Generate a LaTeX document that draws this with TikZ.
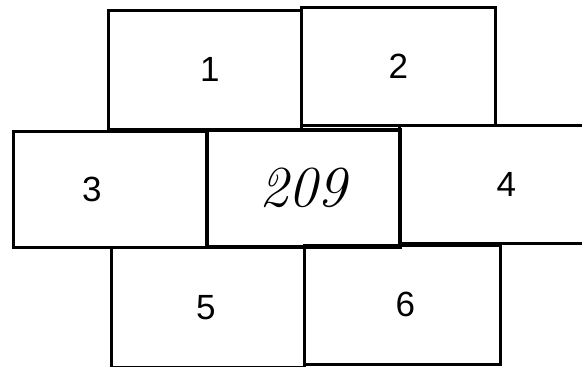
\documentclass[tikz,border=0pt]{standalone}
\usepackage{fontspec}
\setmainfont{Liberation Sans}
\newfontfamily\handfont{Latin Modern Roman}
\begin{document}
\begin{tikzpicture}[x=1pt,y=-1pt,
  cell/.style={draw=black, line width=2.8pt, anchor=north west, inner sep=0pt,
    font=\fontsize{35}{35}\selectfont},
  mid/.style={cell, line width=3.6pt}]
\useasboundingbox (0,0) rectangle (582,367);
\clip (0,0) rectangle (582,367);
\fill[white] (0,0) rectangle (582,367);
\node[cell, minimum width=193pt, minimum height=119pt] (b1) at (107,9) {\makebox[0pt]{\kern10pt 1}};
\node[cell, minimum width=194pt, minimum height=118pt] (b2) at (300,6) {2};
\node[cell, minimum width=193pt, minimum height=116pt] (b3) at (12,130) {\makebox[0pt]{3\kern36pt}};
\node[cell, minimum width=214pt, minimum height=118pt] (b4) at (398,124) {4};
\node[mid, minimum width=193pt, minimum height=117pt,
  font=\handfont\itshape\fontsize{58}{58}\selectfont] (bm) at (205,128) {\raisebox{-4pt}{209}};
\node[cell, minimum width=193pt, minimum height=120pt] (b5) at (110,246) {\makebox[0pt]{5\kern4pt}};
\node[cell, minimum width=196pt, minimum height=119pt] (b6) at (303,244) {\makebox[0pt]{\kern6pt 6}};
\end{tikzpicture}
\end{document}
